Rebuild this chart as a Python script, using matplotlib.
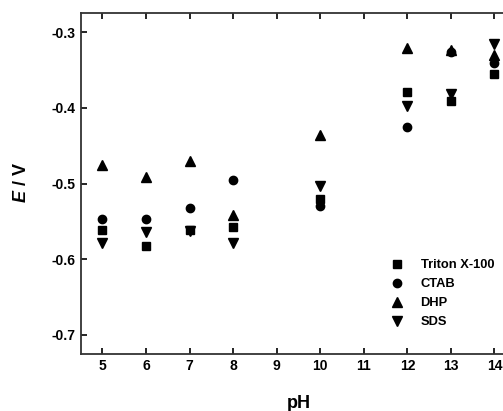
import numpy as np
import matplotlib
matplotlib.use("Agg")
import matplotlib.pyplot as plt

plt.rcParams['font.family'] = ['Liberation Sans', 'DejaVu Sans']
plt.rcParams['font.weight'] = 'bold'
plt.rcParams['mathtext.fontset'] = 'custom'
plt.rcParams['mathtext.it'] = 'Liberation Sans:italic:bold'
plt.rcParams['mathtext.rm'] = 'Liberation Sans:bold'

ph = [5, 6, 7, 8, 10, 12, 13, 14]
triton = [-0.562, -0.582, -0.562, -0.557, -0.520, -0.379, -0.391, -0.356]
ctab = [-0.547, -0.547, -0.532, -0.496, -0.530, -0.426, -0.326, -0.341]
dhp = [-0.476, -0.491, -0.470, -0.541, -0.436, -0.321, -0.324, -0.330]
sds = [-0.578, -0.564, -0.563, -0.579, -0.503, -0.398, -0.382, -0.316]

names = ['Triton X-100', 'CTAB', 'DHP', 'SDS']
markers = ['s', 'o', '^', 'v']
sizes = [5.5, 6, 6.5, 6.5]

fig = plt.figure(figsize=(5.03, 4.11), dpi=100)
ax = fig.add_axes([0.1604, 0.139, 0.866, 0.829])

for vals, name, m, s in zip([triton, ctab, dhp, sds], names, markers, sizes):
    ax.plot(ph, vals, linestyle='none', marker=m, markersize=s, color='black', label=name)

ax.set_xlim(4.5, 14.5)
ax.set_ylim(-0.725, -0.275)
ax.set_xticks(np.arange(5, 15, 1))
ax.set_yticks([-0.7, -0.6, -0.5, -0.4, -0.3])
ax.set_yticklabels(['-0.7', '-0.6', '-0.5', '-0.4', '-0.3'])
ax.tick_params(direction='in', top=True, right=False, length=4, width=1.2,
               labelsize=10)
for lab in ax.get_xticklabels() + ax.get_yticklabels():
    lab.set_fontweight('bold')
for sp in ax.spines.values():
    sp.set_linewidth(1.3)
    sp.set_color('#333333')

ax.set_xlabel('pH', fontsize=13, fontweight='bold', labelpad=16)
fig.text(0.042, 0.555, '$E$ / V', fontsize=13, fontweight='bold',
         rotation=90, ha='center', va='center')

leg = ax.legend(loc='upper left', bbox_to_anchor=(0.709, 0.278), frameon=False,
                fontsize=9.3, handletextpad=1.2, labelspacing=0.54,
                borderaxespad=0, borderpad=0, handlelength=1.2)
for t in leg.get_texts():
    t.set_fontweight('bold')

fig.savefig('out.png', dpi=100)
